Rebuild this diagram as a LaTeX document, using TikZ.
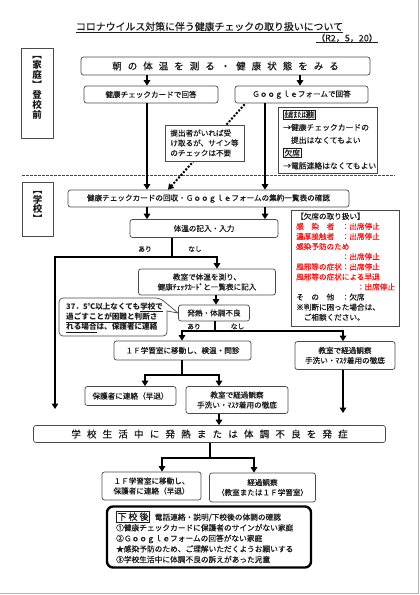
\documentclass[tikz,border=0pt]{standalone}
\usepackage{fontspec}
\setmainfont{Noto Sans CJK JP}[UprightFeatures={FakeBold=0.35}]
\usetikzlibrary{arrows.meta,calc}
\definecolor{bord}{HTML}{4A4A4A}
\definecolor{ink}{HTML}{1A1A1A}
\definecolor{alert}{HTML}{FF1010}
\newcommand\fsz[2]{\fontsize{#1}{#2}\selectfont}
\newcommand\lbl[1]{{\setlength\fboxsep{0.7pt}\setlength\fboxrule{0.6pt}\fbox{#1}}}
\makeatletter
\newcommand\spreadtext[2]{\begingroup\def\sp@gap{#1}\@tfor\sp@c:=#2\do{\sp@c\hskip\sp@gap\relax}\unskip\endgroup}
\makeatother
\tikzset{
 box/.style={draw=bord, line width=0.7pt, rounded corners=2.5pt, fill=white, inner sep=0pt, align=center, text=ink, font=\fsz{7.6}{10}},
 sqbox/.style={draw=bord, line width=0.7pt, fill=white, inner sep=0pt, text=ink, font=\fsz{7.6}{10}},
 txt/.style={inner sep=0pt, text=ink, font=\fsz{7.6}{10}},
 arr/.style={line width=1.8pt, -{Triangle[width=6.5pt,length=5.5pt]}},
 ln/.style={line width=1.8pt},
 dotarr/.style={line width=2pt, dash pattern=on 2pt off 1.6pt, -{Triangle[width=6.5pt,length=5.5pt]}},
}
\begin{document}
\begin{tikzpicture}[x=1pt,y=-1pt]
\useasboundingbox (0,0) rectangle (420,595);
\fill[white] (0,0) rectangle (420,595);
\draw[gray!60, line width=0.8pt] (0,593) -- (418.5,593) -- (418.5,0);

% title
\node[txt, font=\fsz{9.9}{12}] (title) at (209.5,26.5) {コロナウイルス対策に伴う健康チェックの取り扱いについて};
\draw[ink, line width=0.6pt] (title.south west |- 0,32) -- (title.south east |- 0,32);
\node[txt, font=\fsz{9}{11}] (date) at (347,38) {（R2，5，20）};
\draw[ink, line width=0.6pt] (date.south west |- 0,42.5) -- (date.south east |- 0,42.5);

% side labels
\node[sqbox, minimum width=32pt, minimum height=90pt] (home) at (37,93) {};
\node[txt, font=\fsz{9.5}{10}\bfseries, align=center] (hometxt) at (37,88) {︻\\家\\庭\\︼\\登\\校\\前};
\node[sqbox, minimum width=31pt, minimum height=54pt] (school) at (37.5,209) {};
\node[txt, font=\fsz{9.5}{9.5}\bfseries, align=center] (schooltxt) at (37.5,207) {︻\\学\\校\\︼};

\draw[bord, line width=0.6pt, dash pattern=on 2.5pt off 1.5pt] (22,175) -- (395,175);

% home section
\node[box, minimum width=289pt, minimum height=18pt] (top) at (225.5,66) {\fsz{9.5}{11}\spreadtext{6pt}{朝の体温を測る・健康状態をみる}};
\node[box, minimum width=134pt, minimum height=17pt] (card) at (151,94.5) {健康チェックカードで回答};
\node[box, minimum width=133pt, minimum height=17pt] (google) at (301.5,94.5) {Ｇｏｏｇｌｅフォームで回答};
\node[sqbox, minimum width=99pt, minimum height=66pt] (info) at (327.5,140) {};
\node[txt, anchor=north west, align=left, font=\fsz{7.8}{12.8}] (infotxt) at (283,109.5) {\lbl{\scalebox{0.55}[1]{出席または遅刻}}\\→健康チェックカードの\\　提出はなくてもよい\\\lbl{欠席}\\→電話連絡はなくてもよい};

% school section
\node[box, minimum width=281pt, minimum height=17pt] (kaishu) at (208.5,198.5) {健康チェックカードの回収・Ｇｏｏｇｌｅフォームの集約一覧表の確認};
\node[box, minimum width=148pt, minimum height=18pt] (taion) at (204,228.5) {体温の記入・入力};
\node[box, minimum width=137pt, minimum height=26pt] (kyo) at (207,282) {教室で体温を測り、\\健康ﾁｪｯｸｶｰﾄﾞと一覧表に記入};
\node[sqbox, minimum width=108pt, minimum height=116pt] (absent) at (345,268) {};
\node[txt, anchor=north west, align=left, font=\fsz{7.6}{10.1}, text=alert] (absenttxt) at (296,212.5) {{\color{ink}【欠席の取り扱い】}\\感　染　者　：出席停止\\濃厚接触者　：出席停止\\感染予防のため\\　　　　　　：出席停止\\風邪等の症状：出席停止\\風邪等の症状による早退\\　　　　　　　　：出席停止\\{\color{ink}そ　の　他　：欠席}\\{\color{ink}※判断に困った場合は、}\\{\color{ink}　ご相談ください。}};
\node[box, minimum width=71pt, minimum height=16pt] (hatsu) at (214,313) {発熱・体調不良};
\node[box, minimum width=137pt, minimum height=19pt] (oneF) at (182.5,350.5) {１Ｆ学習室に移動し、検温・問診};
\node[box, minimum width=100pt, minimum height=28pt] (keika1) at (345,355.5) {教室で経過観察\\手洗い・ﾏｽｸ着用の徹底};
\node[box, minimum width=91pt, minimum height=19pt] (hogo) at (130.5,396) {保護者に連絡（早退）};
\node[box, minimum width=102pt, minimum height=27pt] (keika2) at (237,400) {教室で経過観察\\手洗い・ﾏｽｸ着用の徹底};
\node[box, minimum width=352pt, minimum height=17pt] (gakko) at (209.5,434) {\fsz{9.5}{11}\spreadtext{6.2pt}{学校生活中に発熱または体調不良を発症}};
\node[box, minimum width=99pt, minimum height=28pt] (oneF2) at (151.5,486) {１Ｆ学習室に移動し、\\保護者に連絡（早退）};
\node[box, minimum width=106pt, minimum height=29pt] (keika3) at (262.5,487.5) {経過観察\\（教室または１Ｆ学習室）};
\node[box, draw=black, line width=2.4pt, rounded corners=6pt, minimum width=204pt, minimum height=61pt] (after) at (209,537) {};
\node[txt, anchor=north west, align=left, font=\fsz{7.7}{10.6}] (aftertxt) at (116,511) {\lbl{\fsz{9}{10}\spreadtext{2pt}{下校後}}\hspace{5pt}電話連絡・説明/下校後の体調の確認\\①健康チェックカードに保護者のサインがない家庭\\②Ｇｏｏｇｌｅフォームの回答がない家庭\\★感染予防のため、ご理解いただくようお願いする\\③学校生活中に体調不良の訴えがあった児童};

% callout
\draw[bord, line width=0.7pt, fill=white] (59,317) [rounded corners=4pt] -- (59,298) -- (160,298) [sharp corners] -- (178,313) -- (167,311) [rounded corners=4pt] -- (167,336) -- (59,336) -- cycle;
\node[txt, anchor=north west, align=left, font=\fsz{7.6}{9.1}\bfseries] (call) at (66,302.5) {37．5℃以上なくても\underline{学校で}\\\underline{過ごすことが困難と判断さ}\\\underline{れる場合}は、保護者に連絡};

% branch labels
\node[txt, font=\fsz{6.8}{8}] (ari1) at (145,249) {あり};
\node[txt, font=\fsz{6.8}{8}] (nashi1) at (195,249) {なし};
\node[txt, font=\fsz{6.8}{8}] (ari2) at (194,326.5) {あり};
\node[txt, font=\fsz{6.8}{8}] (nashi2) at (237.5,326.5) {なし};

% helper coordinates
\coordinate (cA) at (147,0);
\coordinate (cB) at (300,0);
\coordinate (cC) at (265,0);
\coordinate (cD) at (168,0);
\coordinate (br1) at (172,257);
\coordinate (cE) at (217,0);
\coordinate (leftend) at (55,409);
\coordinate (cF) at (216,0);
\coordinate (br2) at (215,331);
\coordinate (cG) at (182,0);
\coordinate (cH) at (343,0);
\coordinate (br3) at (182,375);
\coordinate (cI) at (145,0);
\coordinate (cJ) at (219,0);
\coordinate (rightend) at (343,413);
\coordinate (br4) at (210,458);
\coordinate (cK) at (162,0);
\coordinate (cL) at (254,0);

% connectors
\draw[arr] (top.south -| cA) -- (card.north -| cA);
\draw[arr] (top.south -| cB) -- (google.north -| cB);
\draw[arr] (card.south -| cA) -- (kaishu.north -| cA);
\draw[arr] (google.south -| cC) -- (kaishu.north -| cC);
\draw[dotarr] ($(google.south west)+(10,1)$) -- (kaishu.north -| cD);
\node[sqbox, minimum width=79pt, minimum height=36pt, align=left] (note) at (204.5,143) {提出者がいれば受\\け取るが、サイン等\\のチェックは不要};
\draw[arr] (kaishu.south -| cA) -- (taion.north -| cA);
\draw[arr] (kaishu.south -| cC) -- (taion.north -| cC);
\draw[ln] (taion.south -| br1) -- (br1);
\draw[arr] (br1) -| (kyo.north -| cE);
\draw[arr] (br1) -| (leftend);
\draw[arr] (kyo.south -| cF) -- (hatsu.north -| cF);
\draw[ln] (hatsu.south -| br2) -- (br2);
\draw[arr] (br2) -| (oneF.north -| cG);
\draw[arr] (br2) -| (keika1.north -| cH);
\draw[ln] (oneF.south -| br3) -- (br3);
\draw[arr] (br3) -| (hogo.north -| cI);
\draw[arr] (br3) -| (keika2.north -| cJ);
\draw[arr] (keika1.south -| rightend) -- (rightend);
\draw[arr] (keika2.south -| cJ) -- (gakko.north -| cJ);
\draw[ln] (gakko.south -| br4) -- (br4);
\draw[arr] (br4) -| (oneF2.north -| cK);
\draw[arr] (br4) -| (keika3.north -| cL);
\end{tikzpicture}
\end{document}
